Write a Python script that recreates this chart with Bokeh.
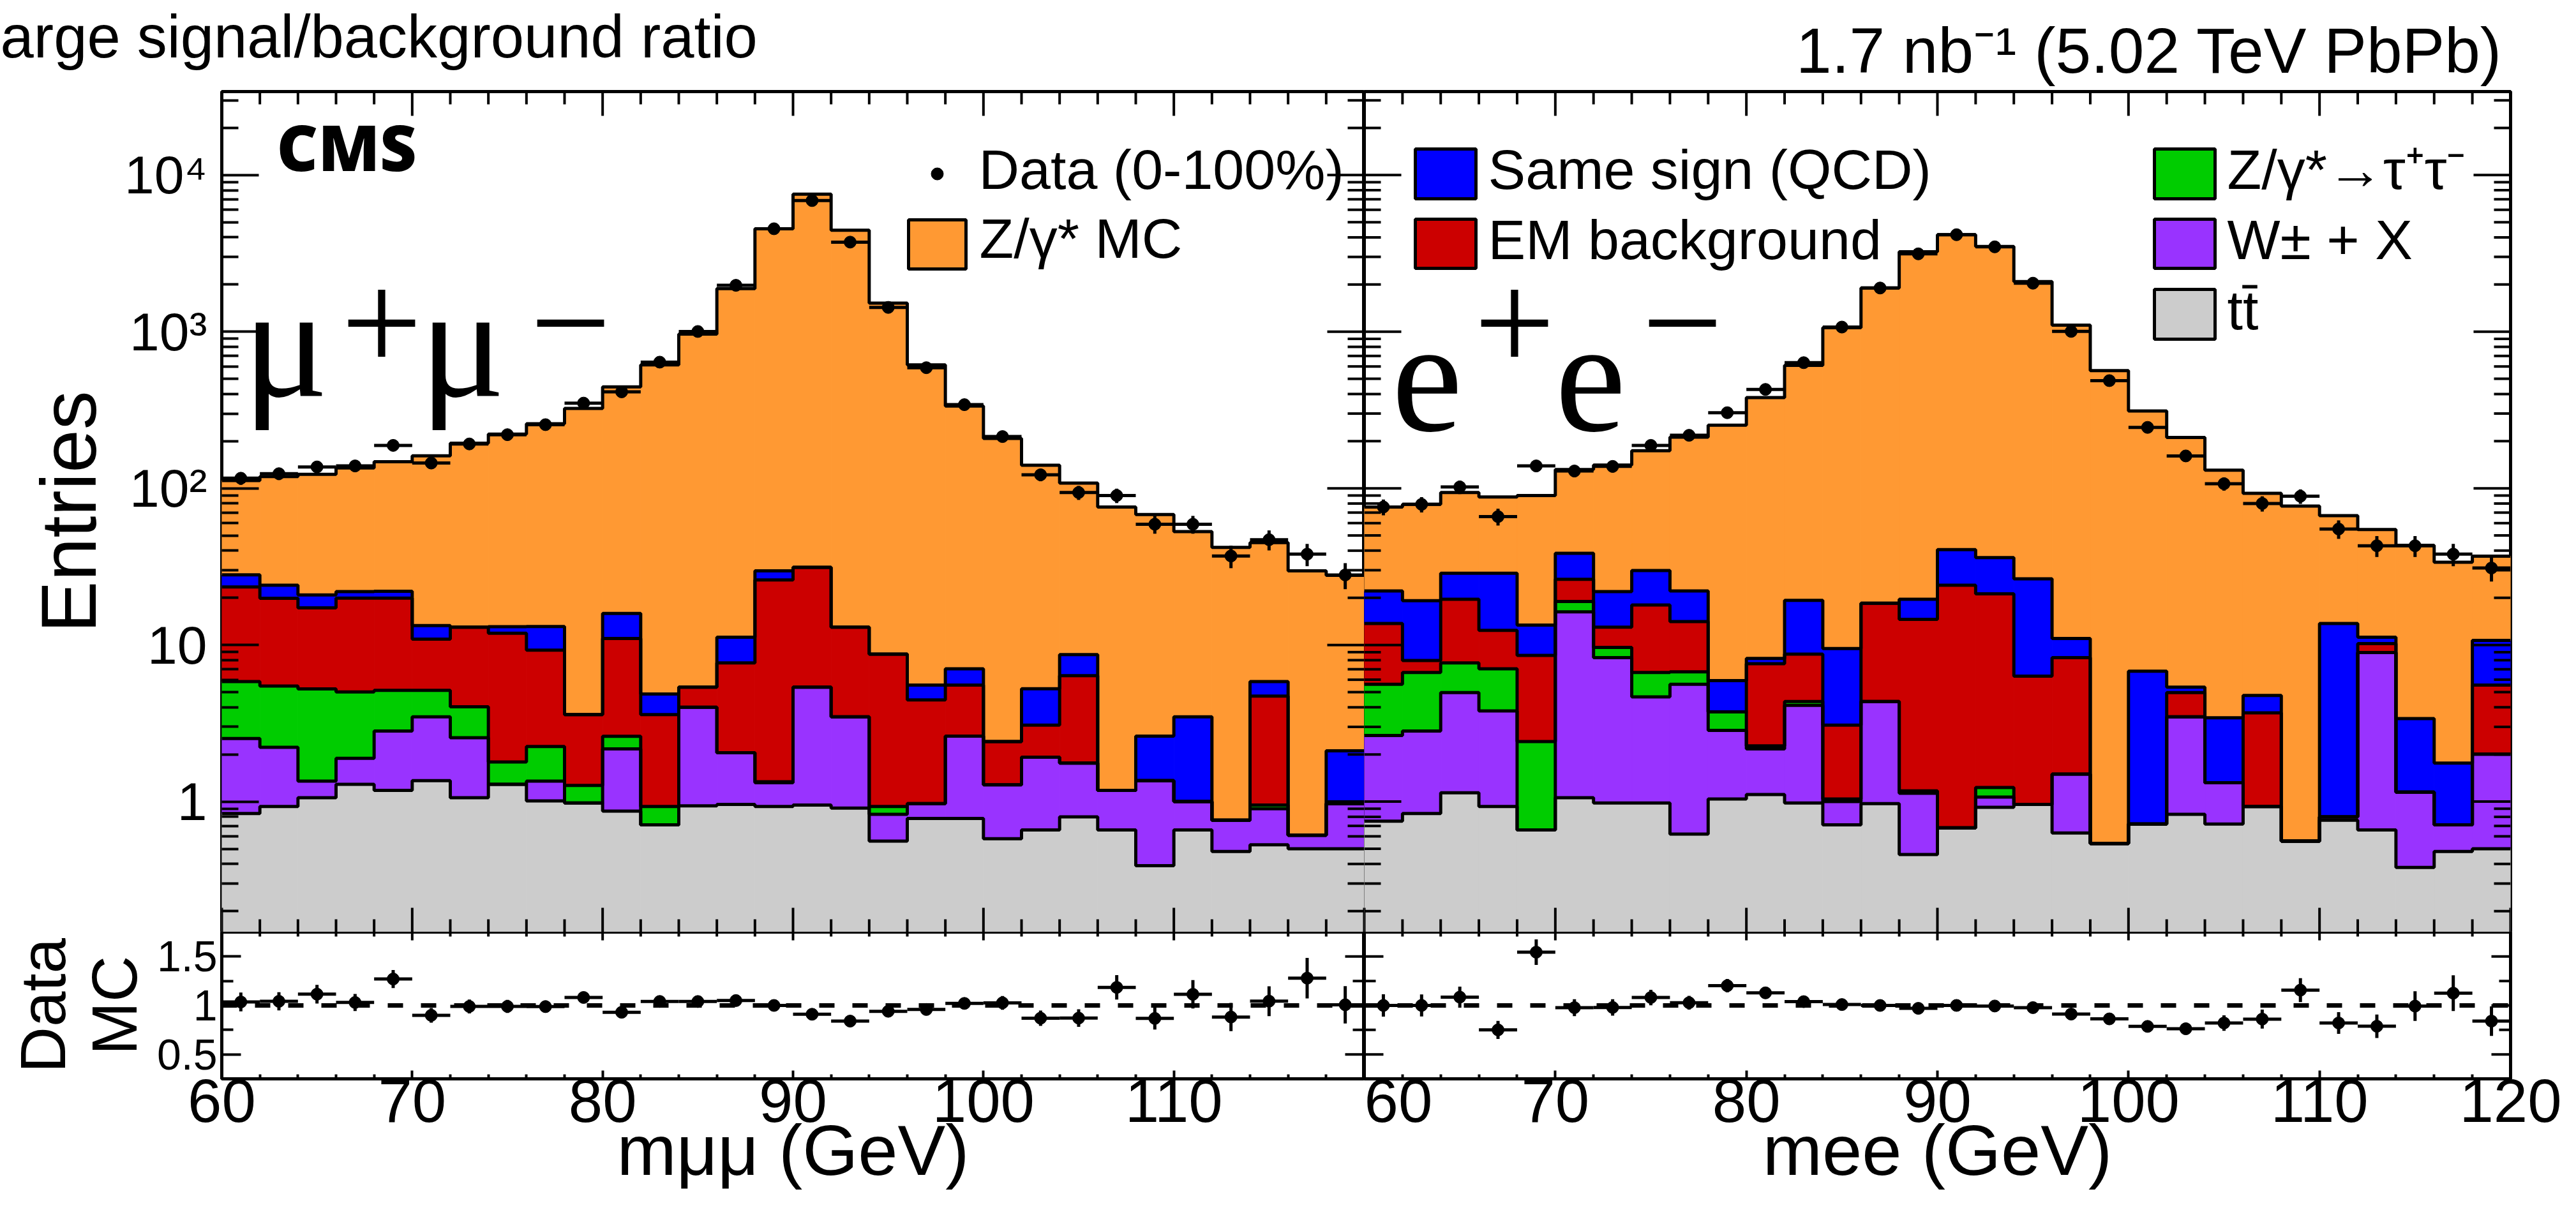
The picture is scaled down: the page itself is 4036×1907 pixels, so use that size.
import numpy as np
from bokeh.plotting import figure
from bokeh.layouts import gridplot
from bokeh.models import Range1d, FixedTicker, LinearAxis, LogAxis
from bokeh.core.properties import value
from bokeh.embed import file_html
from bokeh.resources import INLINE

# ---------------- binning (GeV) ----------------
bin_edges = [60, 62, 64, 66, 68, 70, 72, 74, 76, 78, 80, 82, 84, 86, 88, 90,
             92, 94, 96, 98, 100, 102, 104, 106, 108, 110, 112, 114, 116, 118, 120]

# ---------------- mu+mu- channel (entries per 2 GeV bin) ----------------
mm_data = [116, 124, 137, 139, 188, 145, 192, 220, 255, 350, 413, 639, 1003, 1977, 4540,
           6870, 3730, 1429, 589, 342, 214, 122, 94, 90, 59, 59, 37, 47, 38, 28]
mm_zmc = [84.0, 94.9, 102, 113, 126, 148, 181, 209, 245, 320, 428, 609, 959, 1872, 4510,
          7519, 4427, 1511, 609, 328, 206, 135, 99.3, 74.8, 65.4, 49.5, 41.2, 39.2, 29.1, 25.7]
mm_same_sign = [4.6, 4.2, 3.6, 2.0, 2.1, 2.4, 0, 1.2, 3.83, 0, 4.9, 1.27, 0, 3.51, 3.7,
                0, 0, 0, 1.08, 1.51, 0, 2.18, 2.31, 0, 1.26, 2.48, 0, 1.12, 0, 1.14]
mm_em_bkg = [17.6, 14.4, 12.0, 14.9, 14.8, 5.77, 8.97, 10.1, 7.02, 2.32, 8.39, 2.66, 1.38, 5.64, 24.7,
             25.9, 9.52, 7.82, 3.49, 2.92, 1.14, 1.16, 4.61, 0, 0, 0, 0, 3.77, 0, 0]
mm_ztautau = [3.31, 3.25, 3.89, 3.12, 2.31, 1.65, 1.47, 0.50, 0.90, 0.29, 0.44, 0.22, 0, 0, 0.02,
              0, 0, 0.10, 0, 0, 0, 0, 0, 0, 0, 0, 0, 0.05, 0, 0]
mm_wx = [1.69, 1.29, 0.29, 0.60, 1.64, 2.12, 1.50, 0, 0.34, 0, 1.30, 0, 3.06, 1.09, 0.39,
         4.43, 2.57, 0.27, 0.19, 1.84, 0.70, 1.26, 0.96, 0.52, 0.97, 0.34, 0.28, 0.37, 0.11, 0.47]
mm_ttbar = [0.84, 0.93, 1.06, 1.29, 1.18, 1.36, 1.06, 1.29, 1.01, 0.98, 0.87, 0.71, 0.94, 0.96, 0.93,
            0.95, 0.91, 0.56, 0.78, 0.78, 0.58, 0.66, 0.80, 0.66, 0.39, 0.66, 0.48, 0.53, 0.50, 0.50]

# ---------------- e+e- channel (entries per 2 GeV bin) ----------------
ee_data = [76, 79, 102, 66, 139, 129, 138, 188, 218, 304, 428, 634, 1070, 1900, 3140,
           4160, 3480, 2040, 1004, 487, 245, 161, 107, 80, 89, 55, 43, 43, 38, 31]
ee_zmc = [53.9, 59.8, 65.3, 59.3, 76.6, 93.5, 119, 144, 190, 247, 371, 591, 1051, 1882, 3216,
          4118, 3464, 2060, 1090, 564, 305, 206, 127, 88.2, 76.4, 53.3, 43.4, 39.9, 32.0, 26.2]
ee_same_sign = [8.4, 11.2, 9.1, 16.3, 4.83, 12.2, 8.9, 11.9, 8.0, 2.18, 0.61, 10.5, 6.4, 0, 5.0,
                16.5, 14.9, 20.1, 2.69, 0, 6.08, 0.41, 2.11, 1.07, 0, 12.9, 1.0, 2.24, 1.05, 5.16]
ee_em_bkg = [8.09, 1.28, 11.9, 5.35, 6.15, 7.30, 3.36, 11.3, 7.37, 0, 5.32, 4.39, 2.04, 14.1, 13.4,
             23.4, 20.0, 5.36, 6.81, 0, 0, 1.49, 0, 2.76, 0, 0, 1.25, 0, 0, 3.53]
ee_ztautau = [2.97, 3.86, 2.72, 3.26, 1.76, 2.70, 1.33, 2.02, 1.12, 0.89, 0.10, 0.24, 0.04, 0, 0.04,
              0, 0.16, 0, 0, 0, 0, 0, 0, 0, 0, 0, 0, 0, 0, 0]
ee_wx = [1.89, 1.98, 3.83, 2.86, 0, 15.2, 7.33, 3.68, 4.99, 1.81, 1.06, 3.14, 0.29, 3.39, 0.67,
         0, 0.15, 0, 0.87, 0, 0, 2.65, 0.60, 0, 0, 0.04, 8.29, 0.77, 0.23, 1.51]
ee_ttbar = [0.75, 0.84, 1.14, 0.93, 0.66, 1.06, 0.98, 0.98, 0.62, 1.04, 1.11, 0.98, 0.71, 0.97, 0.46,
            0.68, 0.92, 0.96, 0.63, 0.54, 0.72, 0.83, 0.72, 0.93, 0.56, 0.76, 0.66, 0.38, 0.48, 0.50]

# ---------------- style ----------------
C_ZMC, C_SS, C_EM = "#ff9933", "#0000ff", "#cc0000"
C_ZTT, C_W, C_TT = "#00cc00", "#9933ff", "#cccccc"
SANS, SERIF = "Liberation Sans", "Liberation Serif"
HEAVY = "Open Sans Extrabold, Roboto Black, Liberation Sans"
LW = 5

# page geometry in pixels
LEFT, MID, RIGHT, PAGE_W = 347, 2137, 3933, 4036
TOP, SPLIT, BOTTOM, PAGE_H = 143, 1460, 1690, 1907
Y_LO, Y_HI = 0.147, 3.41e4
R_LO, R_HI = 0.25, 1.75
DECADE_PX = (SPLIT - TOP) / np.log10(Y_HI / Y_LO)
RATIO_PX = (BOTTOM - SPLIT) / (R_HI - R_LO)


def x_px(px, lo, hi):
    return float(60.0 + 60.0 * (px - lo) / (hi - lo))


def logy_px(py):
    return float(Y_LO * 10 ** ((SPLIT - py) / DECADE_PX))


def new_fig(w, h, ylo, yhi, log_y, bl, br, bt, bb):
    p = figure(width=w, height=h, x_range=Range1d(60, 120), y_range=Range1d(ylo, yhi),
               y_axis_type="log" if log_y else "linear", title=None,
               x_axis_location=None, y_axis_location=None,
               output_backend="svg", toolbar_location=None,
               min_border_left=bl, min_border_right=br,
               min_border_top=bt, min_border_bottom=bb)
    p.grid.visible = False
    p.outline_line_color = "black"
    p.outline_line_width = LW
    p.background_fill_color = "white"
    p.border_fill_color = "white"
    return p


def labeled_axis(p, cls, side, ticks, minor, t_in, m_in, size, standoff, overrides=None):
    ax = cls(ticker=FixedTicker(ticks=ticks, minor_ticks=minor))
    ax.major_tick_in, ax.major_tick_out = t_in, 0
    ax.minor_tick_in, ax.minor_tick_out = m_in, 0
    ax.major_tick_line_width = 4
    ax.minor_tick_line_width = 4
    ax.axis_line_color = None
    ax.major_label_text_font = SANS
    ax.major_label_text_color = "black"
    ax.major_label_text_font_size = size
    ax.major_label_standoff = standoff
    ax.axis_label_text_font = SANS
    ax.axis_label_text_font_style = "normal"
    ax.axis_label_text_color = "black"
    if overrides:
        ax.major_label_overrides = overrides
    p.add_layout(ax, side)
    return ax


def heading(p, x, s, size, standoff):
    """Text line set in the top margin, carried by a tick-less axis."""
    ax = LinearAxis(ticker=FixedTicker(ticks=[x], minor_ticks=[]))
    ax.major_tick_in = ax.major_tick_out = 0
    ax.major_tick_line_color = None
    ax.minor_tick_line_color = None
    ax.axis_line_color = None
    ax.major_label_overrides = {x: s}
    ax.major_label_text_font = SANS
    ax.major_label_text_color = "black"
    ax.major_label_text_font_size = size
    ax.major_label_standoff = standoff
    p.add_layout(ax, "above")


x_major = [60, 70, 80, 90, 100, 110, 120]
x_minor = [v for v in range(62, 120, 2) if v % 10]
log_major = [1, 10, 100, 1000, 10000]
log_minor = [m * 10.0 ** k for k in range(-1, 5) for m in range(2, 10)]
r_major = [0.5, 1.0, 1.5]
r_minor = [0.75, 1.25]


def frame_ticks(p, sides, upper, gev_px):
    """Inward tick marks on the frame sides that carry no labels."""
    if upper:
        ylo, yhi, xt, xm, yt, ym, ymaj, ymin = Y_LO, Y_HI, 38, 20, 58, 26, log_major, log_minor
        up = lambda y, n: y * 10 ** (n / DECADE_PX)
        down = lambda y, n: y / 10 ** (n / DECADE_PX)
    else:
        ylo, yhi, xt, xm, yt, ym, ymaj, ymin = R_LO, R_HI, 13, 7, 30, 18, r_major, r_minor
        up = lambda y, n: y + n / RATIO_PX
        down = lambda y, n: y - n / RATIO_PX
    x0, x1, y0, y1 = [], [], [], []
    for side in sides:
        if side in ("below", "above"):
            for vals, n in ((x_major, xt), (x_minor, xm)):
                for v in vals:
                    x0.append(v); x1.append(v)
                    if side == "below":
                        y0.append(ylo); y1.append(up(ylo, n))
                    else:
                        y0.append(yhi); y1.append(down(yhi, n))
        else:
            for vals, n in ((ymaj, yt), (ymin, ym)):
                for v in vals:
                    if not (ylo < v < yhi):
                        continue
                    if side == "left":
                        x0.append(60); x1.append(60 + n / gev_px)
                    else:
                        x0.append(120); x1.append(120 - n / gev_px)
                    y0.append(v); y1.append(v)
    p.segment(x0=x0, x1=x1, y0=y0, y1=y1, line_color="black", line_width=4)


def draw_stack(p, data, layers):
    left = np.array(bin_edges[:-1], float)
    right = np.array(bin_edges[1:], float)
    centers = (left + right) / 2
    cum = np.zeros(len(left))
    tops = []
    for vals, col in layers:
        new = cum + np.asarray(vals, float)
        bottom = np.where(cum > 0, cum, 1e-3)
        p.quad(left=left, right=right, bottom=bottom, top=new,
               fill_color=col, line_color=col, line_width=1)
        tops.append(new)
        cum = new
    for t in tops:
        p.step(x=bin_edges, y=list(t) + [t[-1]], mode="after",
               line_color="black", line_width=LW)
    d = np.asarray(data, float)
    err = np.sqrt(d)
    p.segment(x0=left, x1=right, y0=d, y1=d, line_color="black", line_width=LW)
    p.segment(x0=centers, x1=centers, y0=d - err, y1=d + err, line_color="black", line_width=LW)
    p.scatter(x=centers, y=d, size=19, color="black")
    return cum


def draw_ratio(p, data, total):
    left = np.array(bin_edges[:-1], float)
    right = np.array(bin_edges[1:], float)
    centers = (left + right) / 2
    d = np.asarray(data, float)
    r = d / total
    er = np.sqrt(d) / total
    p.line(x=[bin_edges[0], bin_edges[-1]], y=[1.0, 1.0], line_color="black",
           line_width=7, line_dash="24 28")
    p.segment(x0=left, x1=right, y0=r, y1=r, line_color="black", line_width=LW)
    p.segment(x0=centers, x1=centers, y0=r - er, y1=r + er, line_color="black", line_width=LW)
    p.scatter(x=centers, y=r, size=19, color="black")


def gtext(p, lo, hi, px, py, s, size, font=SANS, descent=0.212):
    # py is the text baseline in page pixels; glyph text is anchored at its bottom
    p.text(x=[x_px(px, lo, hi)], y=[logy_px(py + descent * size)], text=[s],
           text_font=value(font), text_font_size=value(f"{size}px"),
           text_align="left", text_baseline="bottom", text_color="black")


def key_boxes(p, lo, hi, x0, x1, rows, colors):
    p.quad(left=[x_px(x0, lo, hi)] * len(rows), right=[x_px(x1, lo, hi)] * len(rows),
           bottom=[logy_px(b) for _, b in rows], top=[logy_px(t) for t, _ in rows],
           fill_color=colors, line_color="black", line_width=LW)


W_L, W_R = MID, PAGE_W - MID
H_U, H_B = SPLIT, PAGE_H - SPLIT
GEV_L = (MID - LEFT) / 60.0
GEV_R = (RIGHT - MID) / 60.0

# ---------------- upper left: mu+mu- ----------------
tl = new_fig(W_L, H_U, Y_LO, Y_HI, True, LEFT, 0, TOP, 0)
ax = labeled_axis(tl, LogAxis, "left", log_major, log_minor, 58, 26, "84px", 23,
                  {1: "1", 10: "10", 100: "10²", 1000: "10³", 10000: "10⁴"})
ax.axis_label = "Entries"
ax.axis_label_text_font_size = "122px"
ax.axis_label_standoff = 16
heading(tl, x_px(593, LEFT, MID), "arge signal/background ratio", "94px", 34)

mm_total = draw_stack(tl, mm_data, [(mm_ttbar, C_TT), (mm_wx, C_W), (mm_ztautau, C_ZTT),
                                    (mm_em_bkg, C_EM), (mm_same_sign, C_SS), (mm_zmc, C_ZMC)])
frame_ticks(tl, ("below", "above", "right"), True, GEV_L)

gtext(tl, LEFT, MID, 433, 275, "CMS", 100, font=HEAVY)
gtext(tl, LEFT, MID, 380, 620, "μ", 250, font=SERIF, descent=0.216)
gtext(tl, LEFT, MID, 534, 532, "+", 225, font=SERIF, descent=0.216)
gtext(tl, LEFT, MID, 657, 620, "μ", 250, font=SERIF, descent=0.216)
gtext(tl, LEFT, MID, 830, 532, "−", 225, font=SERIF, descent=0.216)

# key
tl.scatter(x=[x_px(1468, LEFT, MID)], y=[logy_px(272)], size=19, color="black")
gtext(tl, LEFT, MID, 1533, 296, "Data (0-100%)", 88)
key_boxes(tl, LEFT, MID, 1423, 1513, [(344, 421)], [C_ZMC])
gtext(tl, LEFT, MID, 1534, 404, "Z/γ* MC", 88)

# ---------------- upper right: e+e- ----------------
tr = new_fig(W_R, H_U, Y_LO, Y_HI, True, 0, PAGE_W - RIGHT, TOP, 0)
heading(tr, x_px(3367, MID, RIGHT), "1.7 nb⁻¹ (5.02 TeV PbPb)", "100px", 9)
ee_total = draw_stack(tr, ee_data, [(ee_ttbar, C_TT), (ee_wx, C_W), (ee_ztautau, C_ZTT),
                                    (ee_em_bkg, C_EM), (ee_same_sign, C_SS), (ee_zmc, C_ZMC)])
frame_ticks(tr, ("below", "above", "left", "right"), True, GEV_R)

gtext(tr, MID, RIGHT, 2180, 620, "e", 250, font=SERIF, descent=0.216)
gtext(tr, MID, RIGHT, 2309, 532, "+", 225, font=SERIF, descent=0.216)
gtext(tr, MID, RIGHT, 2436, 620, "e", 250, font=SERIF, descent=0.216)
gtext(tr, MID, RIGHT, 2572, 532, "−", 225, font=SERIF, descent=0.216)

# key
key_boxes(tr, MID, RIGHT, 2217, 2312, [(233, 311), (343, 420)], [C_SS, C_EM])
gtext(tr, MID, RIGHT, 2331, 296, "Same sign (QCD)", 88)
gtext(tr, MID, RIGHT, 2331, 406, "EM background", 88)
key_boxes(tr, MID, RIGHT, 3375, 3470, [(233, 311), (343, 420), (453, 531)], [C_ZTT, C_W, C_TT])
gtext(tr, MID, RIGHT, 3489, 296, "Z/γ*→τ⁺τ⁻", 88)
gtext(tr, MID, RIGHT, 3489, 406, "W± + X", 88)
gtext(tr, MID, RIGHT, 3489, 516, "tt̄", 88)

# ---------------- lower panels: data / MC ----------------
bl = new_fig(W_L, H_B, R_LO, R_HI, False, LEFT, 0, 0, PAGE_H - BOTTOM)
ax = labeled_axis(bl, LinearAxis, "left", r_major, r_minor, 30, 18, "68px", 7,
                  {0.5: "0.5", 1.0: "1", 1.5: "1.5"})
ax.axis_label = "Data\nMC"
ax.axis_label_text_font_size = "100px"
ax.axis_label_text_line_height = 1.0
ax.axis_label_standoff = 8
# the 60 at the shared edge belongs to the right-hand panel
ax = labeled_axis(bl, LinearAxis, "below", x_major[:-1], x_minor, 13, 7, "96px", 0)
ax.axis_label = "mμμ (GeV)"
ax.axis_label_text_font_size = "112px"
ax.axis_label_standoff = -21
draw_ratio(bl, mm_data, mm_total)
frame_ticks(bl, ("above", "right"), False, GEV_L)

br = new_fig(W_R, H_B, R_LO, R_HI, False, 0, PAGE_W - RIGHT, 0, PAGE_H - BOTTOM)
ax = labeled_axis(br, LinearAxis, "below", x_major, x_minor, 13, 7, "96px", 0)
ax.axis_label = "mee (GeV)"
ax.axis_label_text_font_size = "112px"
ax.axis_label_standoff = -21
draw_ratio(br, ee_data, ee_total)
frame_ticks(br, ("above", "left", "right"), False, GEV_R)

page = gridplot([[tl, tr], [bl, br]], toolbar_location=None)
open("out.html", "w").write(file_html(page, INLINE))
